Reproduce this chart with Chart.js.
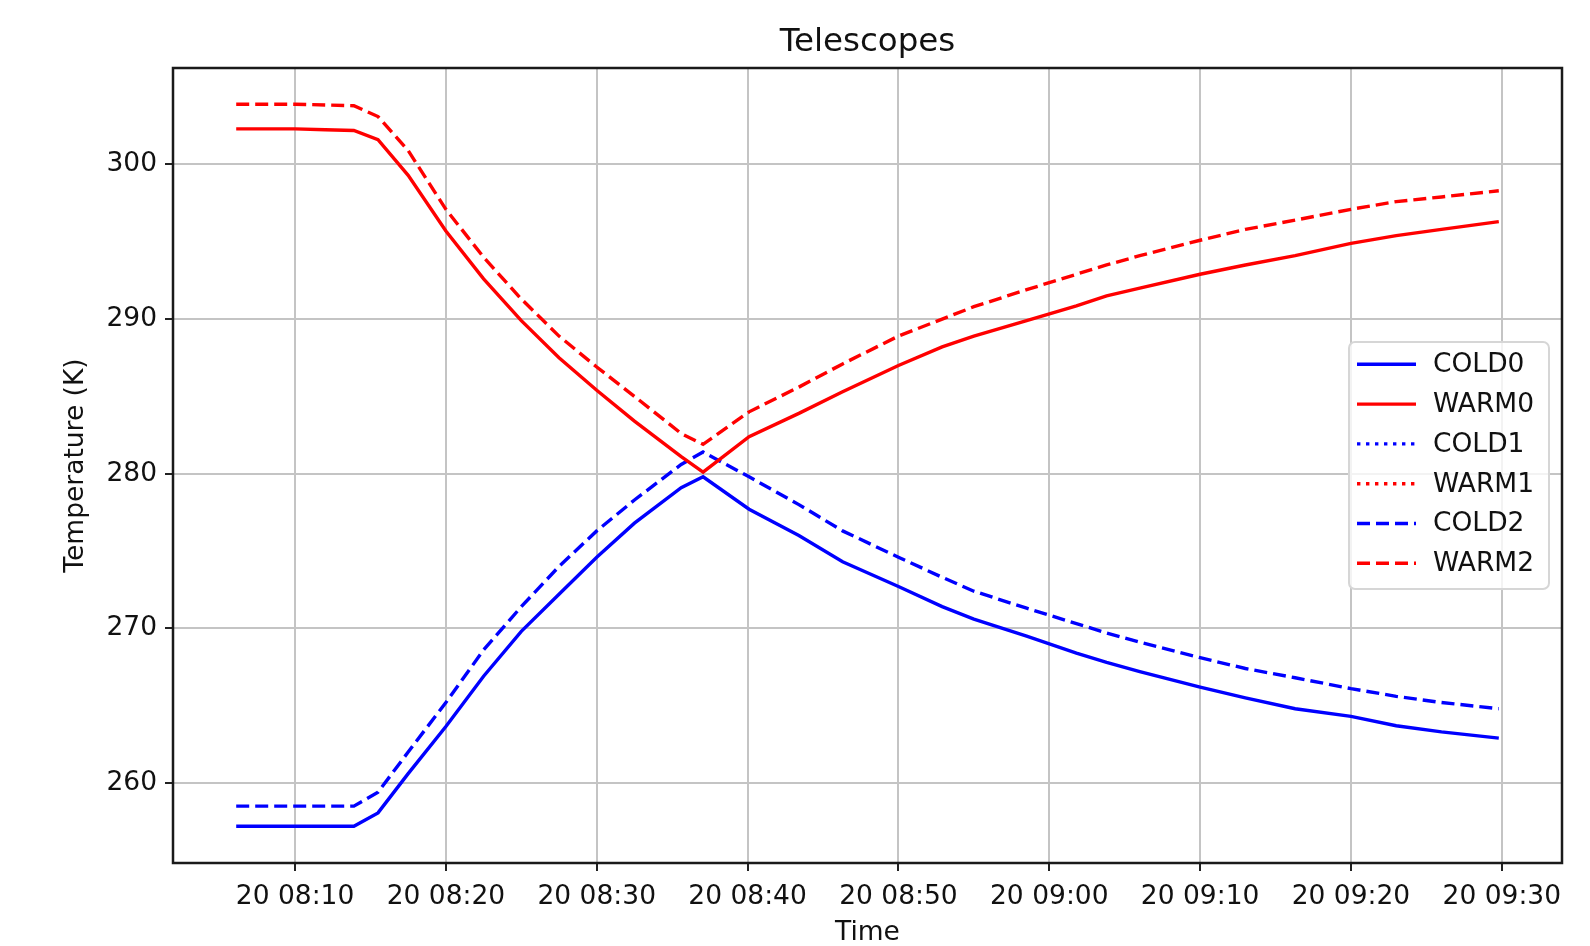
<!DOCTYPE html>
<html>
<head>
<meta charset="utf-8">
<title>Telescopes</title>
<script src="https://cdn.jsdelivr.net/npm/chart.js@4.4.1/dist/chart.umd.min.js"></script>
<style>
  body { margin: 0; background: #fff; }
  #wrap { width: 1590px; height: 946px; }
</style>
</head>
<body>
<div id="wrap"><canvas id="tempChart" width="1590" height="946"></canvas></div>
<script>
// time in minutes after 08:00 (day 20)
const minutes = [6.1, 8, 10, 12, 13.9, 15.5, 17.5, 20, 22.5, 25, 27.5, 30, 32.5, 35.6, 37.05, 40.1, 43.4, 46.3,
                 50, 52.9, 55, 58.5, 61.8, 63.8, 66, 70, 73, 76.3, 80, 83, 86, 89.8];

const cold0 = [257.2, 257.2, 257.2, 257.2, 257.2, 258.06, 260.6, 263.65, 266.9, 269.8, 272.2, 274.6, 276.8, 279.1, 279.8, 277.7, 276.0, 274.3,
               272.7, 271.4, 270.6, 269.5, 268.4, 267.8, 267.2, 266.2, 265.5, 264.8, 264.3, 263.7, 263.3, 262.9];
const warm0 = [302.3, 302.3, 302.3, 302.25, 302.2, 301.6, 299.3, 295.7, 292.6, 289.9, 287.5, 285.4, 283.4, 281.1, 280.1, 282.4, 283.9, 285.3,
               287.0, 288.2, 288.9, 289.9, 290.85, 291.5, 292.0, 292.9, 293.5, 294.1, 294.9, 295.4, 295.8, 296.3];
const cold1 = [];
const warm1 = [];
const cold2 = [258.5, 258.5, 258.5, 258.5, 258.5, 259.4, 262.0, 265.2, 268.6, 271.4, 274.0, 276.3, 278.3, 280.6, 281.4, 279.8, 278.0, 276.3,
               274.6, 273.3, 272.4, 271.3, 270.3, 269.7, 269.1, 268.1, 267.4, 266.8, 266.1, 265.6, 265.2, 264.8];
const warm2 = [303.9, 303.9, 303.9, 303.85, 303.8, 303.1, 300.9, 297.1, 294.0, 291.3, 288.9, 286.9, 285.0, 282.6, 281.9, 284.0, 285.6, 287.1,
               288.9, 290.0, 290.8, 291.9, 292.9, 293.5, 294.1, 295.1, 295.8, 296.4, 297.1, 297.6, 297.9, 298.3];

const xTicks = [10, 20, 30, 40, 50, 60, 70, 80, 90];
const xTickLabels = ['20 08:10', '20 08:20', '20 08:30', '20 08:40', '20 08:50', '20 09:00', '20 09:10', '20 09:20', '20 09:30'];
const yTicks = [260, 270, 280, 290, 300];

const FONT = "'DejaVu Sans', sans-serif";
const TXT = 26.5;

function pts(vals) {
    return vals.map((v, i) => ({ x: minutes[i], y: v }));
}

// black frame around the plot area
const frame = {
    id: 'frame',
    afterDatasetsDraw(chart) {
        const a = chart.chartArea;
        const ctx = chart.ctx;
        ctx.save();
        ctx.strokeStyle = '#1a1a1a';
        ctx.lineWidth = 2.5;
        ctx.strokeRect(a.left, a.top, a.right - a.left, a.bottom - a.top);
        ctx.restore();
    }
};

// matplotlib-like legend box, centre right inside the plot
const boxLegend = {
    id: 'boxLegend',
    afterDraw(chart) {
        const ctx = chart.ctx;
        const a = chart.chartArea;
        const w = 200, h = 247, rowH = 39.8;
        const x0 = a.right - 13 - w;
        const y0 = (a.top + a.bottom) / 2 - h / 2;
        ctx.save();
        ctx.fillStyle = 'rgba(255,255,255,0.8)';
        ctx.strokeStyle = '#d6d6d6';
        ctx.lineWidth = 2;
        ctx.beginPath();
        ctx.roundRect(x0, y0, w, h, 6);
        ctx.fill();
        ctx.stroke();
        ctx.font = TXT + 'px ' + FONT;
        ctx.textBaseline = 'middle';
        ctx.fillStyle = '#111';
        chart.data.datasets.forEach((ds, i) => {
            const y = y0 + 22.3 + i * rowH;
            ctx.strokeStyle = ds.borderColor;
            ctx.lineWidth = ds.borderWidth;
            ctx.setLineDash(ds.borderDash || []);
            ctx.beginPath();
            ctx.moveTo(x0 + 8, y);
            ctx.lineTo(x0 + 67, y);
            ctx.stroke();
            ctx.setLineDash([]);
            ctx.fillText(ds.label, x0 + 84, y + 1);
        });
        ctx.restore();
    }
};

const ctx = document.getElementById('tempChart').getContext('2d');
const chart = new Chart(ctx, {
    type: 'line',
    data: {
        datasets: [
            { label: 'COLD0', data: pts(cold0), borderColor: '#0000ff', borderWidth: 3.4 },
            { label: 'WARM0', data: pts(warm0), borderColor: '#ff0000', borderWidth: 3.4 },
            { label: 'COLD1', data: pts(cold1), borderColor: '#0000ff', borderWidth: 3.4, borderDash: [3.4, 5.6] },
            { label: 'WARM1', data: pts(warm1), borderColor: '#ff0000', borderWidth: 3.4, borderDash: [3.4, 5.6] },
            { label: 'COLD2', data: pts(cold2), borderColor: '#0000ff', borderWidth: 3.4, borderDash: [13, 6] },
            { label: 'WARM2', data: pts(warm2), borderColor: '#ff0000', borderWidth: 3.4, borderDash: [13, 6] }
        ]
    },
    options: {
        responsive: false,
        animation: false,
        devicePixelRatio: 1,
        layout: { padding: { left: 0, right: 28, top: 0, bottom: 0 } },
        elements: {
            point: { radius: 0 },
            line: { tension: 0, fill: false, borderCapStyle: 'butt' }
        },
        plugins: {
            legend: { display: false },
            tooltip: { enabled: false },
            title: {
                display: true,
                fullSize: false,
                text: 'Telescopes',
                color: '#111',
                font: { family: FONT, size: 32.5, weight: 'normal' },
                padding: { top: 23, bottom: 6 }
            }
        },
        scales: {
            x: {
                type: 'linear',
                min: 1.91,
                max: 93.99,
                afterBuildTicks: s => { s.ticks = xTicks.map(v => ({ value: v })); },
                afterFit: s => { s.height = 83; },
                ticks: {
                    autoSkip: false,
                    maxRotation: 0,
                    color: '#111',
                    padding: 10,
                    font: { family: FONT, size: TXT },
                    callback: (v, i) => xTickLabels[xTicks.indexOf(v)]
                },
                grid: { color: '#c4c4c4', lineWidth: 2, tickColor: '#222', tickLength: 8, tickWidth: 2 },
                border: { display: false },
                title: {
                    display: true,
                    text: 'Time',
                    color: '#111',
                    font: { family: FONT, size: TXT },
                    padding: { top: 0, bottom: -3 }
                }
            },
            y: {
                min: 254.82,
                max: 306.24,
                afterBuildTicks: s => { s.ticks = yTicks.map(v => ({ value: v })); },
                afterFit: s => { s.width = 173; },
                ticks: {
                    color: '#111',
                    padding: 8,
                    font: { family: FONT, size: TXT },
                    callback: v => String(v)
                },
                grid: { color: '#c4c4c4', lineWidth: 2, tickColor: '#222', tickLength: 8, tickWidth: 2 },
                border: { display: false },
                title: {
                    display: true,
                    text: 'Temperature (K)',
                    color: '#111',
                    font: { family: FONT, size: TXT },
                    padding: { top: 60, bottom: 0 }
                }
            }
        }
    },
    plugins: [frame, boxLegend]
});
</script>
</body>
</html>
